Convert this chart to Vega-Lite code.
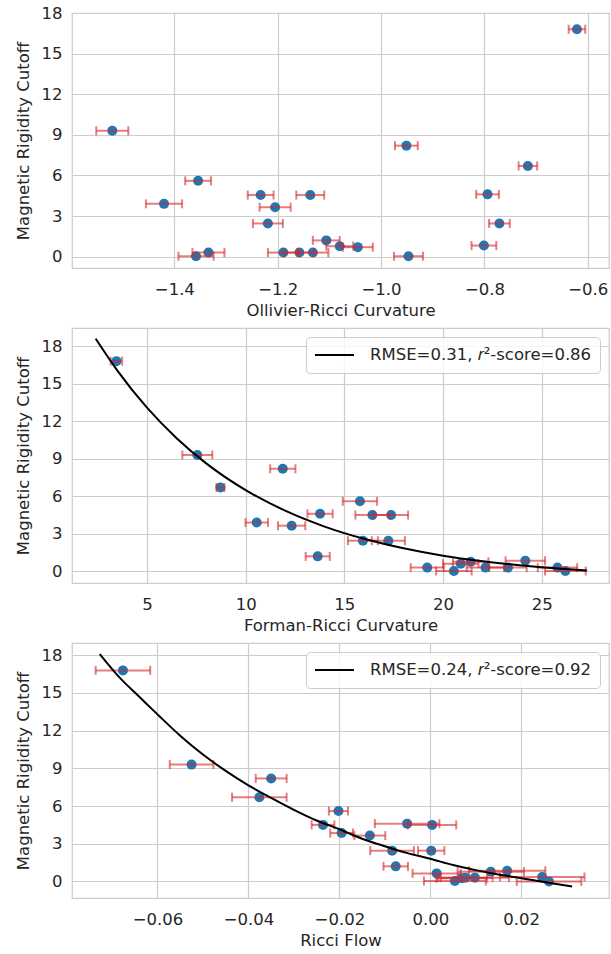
{
  "$schema": "https://vega.github.io/schema/vega-lite/v6.json",
  "background": "white",
  "padding": {"left": 14, "top": 4, "right": 0, "bottom": 0},
  "spacing": 7,
  "resolve": {"scale": {"stroke": "independent"}, "legend": {"stroke": "independent"}},
  "config": {
    "font": "DejaVu Sans",
    "view": {"stroke": "#cccccc", "strokeWidth": 1.25},
    "axis": {
      "domain": false, "ticks": false, "tickSize": 0, "grid": true,
      "gridColor": "#cccccc", "gridWidth": 1.2,
      "labelFont": "DejaVu Sans", "labelFontSize": 16.5, "labelColor": "#262626",
      "labelFlush": false, "labelOverlap": false,
      "titleFont": "DejaVu Sans", "titleFontSize": 16.5, "titleFontWeight": "normal", "titleColor": "#262626"
    },
    "axisX": {"labelPadding": 13, "titlePadding": 5},
    "axisY": {"labelPadding": 10, "titlePadding": 10}
  },
  "datasets": {
    "ollivier": [
      {"x": -1.520, "xerr": 0.031, "y": 9.3},
      {"x": -1.354, "xerr": 0.025, "y": 5.6},
      {"x": -1.420, "xerr": 0.035, "y": 3.9},
      {"x": -1.233, "xerr": 0.025, "y": 4.55},
      {"x": -1.137, "xerr": 0.027, "y": 4.55},
      {"x": -1.205, "xerr": 0.030, "y": 3.65},
      {"x": -1.219, "xerr": 0.029, "y": 2.45},
      {"x": -1.106, "xerr": 0.026, "y": 1.2},
      {"x": -1.080, "xerr": 0.026, "y": 0.77},
      {"x": -1.334, "xerr": 0.031, "y": 0.3},
      {"x": -1.358, "xerr": 0.034, "y": 0.03},
      {"x": -1.189, "xerr": 0.030, "y": 0.3},
      {"x": -1.158, "xerr": 0.029, "y": 0.3},
      {"x": -1.132, "xerr": 0.030, "y": 0.3},
      {"x": -0.621, "xerr": 0.016, "y": 16.8},
      {"x": -0.951, "xerr": 0.022, "y": 8.2},
      {"x": -0.716, "xerr": 0.018, "y": 6.7},
      {"x": -0.794, "xerr": 0.022, "y": 4.6},
      {"x": -0.771, "xerr": 0.020, "y": 2.45},
      {"x": -0.801, "xerr": 0.024, "y": 0.82},
      {"x": -0.947, "xerr": 0.028, "y": 0.03},
      {"x": -1.045, "xerr": 0.029, "y": 0.7}
    ],
    "forman": [
      {"x": 3.45, "xerr": 0.29, "y": 16.8},
      {"x": 7.55, "xerr": 0.76, "y": 9.3},
      {"x": 8.72, "xerr": 0.2, "y": 6.7},
      {"x": 11.88, "xerr": 0.64, "y": 8.2},
      {"x": 13.77, "xerr": 0.64, "y": 4.6},
      {"x": 10.56, "xerr": 0.57, "y": 3.9},
      {"x": 12.33, "xerr": 0.69, "y": 3.65},
      {"x": 13.65, "xerr": 0.61, "y": 1.2},
      {"x": 15.79, "xerr": 0.87, "y": 5.6},
      {"x": 16.42, "xerr": 0.86, "y": 4.5},
      {"x": 17.37, "xerr": 0.86, "y": 4.5},
      {"x": 15.94, "xerr": 0.76, "y": 2.45},
      {"x": 17.23, "xerr": 0.84, "y": 2.45},
      {"x": 19.20, "xerr": 0.84, "y": 0.3},
      {"x": 20.55, "xerr": 0.9, "y": 0.03},
      {"x": 20.90, "xerr": 0.9, "y": 0.61},
      {"x": 21.40, "xerr": 0.9, "y": 0.77},
      {"x": 22.15, "xerr": 0.95, "y": 0.3},
      {"x": 23.29, "xerr": 0.95, "y": 0.3},
      {"x": 24.17, "xerr": 1.0, "y": 0.85},
      {"x": 25.80, "xerr": 1.0, "y": 0.3},
      {"x": 26.20, "xerr": 1.03, "y": 0.03}
    ],
    "forman_fit": [
      {"x": 2.4, "y": 18.6, "label": "RMSE=0.31, 𝑟²-score=0.86"},
      {"x": 3.5, "y": 16.05, "label": "RMSE=0.31, 𝑟²-score=0.86"},
      {"x": 5, "y": 13.08, "label": "RMSE=0.31, 𝑟²-score=0.86"},
      {"x": 6.5, "y": 10.64, "label": "RMSE=0.31, 𝑟²-score=0.86"},
      {"x": 8, "y": 8.63, "label": "RMSE=0.31, 𝑟²-score=0.86"},
      {"x": 10, "y": 6.49, "label": "RMSE=0.31, 𝑟²-score=0.86"},
      {"x": 12, "y": 4.85, "label": "RMSE=0.31, 𝑟²-score=0.86"},
      {"x": 14, "y": 3.58, "label": "RMSE=0.31, 𝑟²-score=0.86"},
      {"x": 16, "y": 2.6, "label": "RMSE=0.31, 𝑟²-score=0.86"},
      {"x": 18, "y": 1.84, "label": "RMSE=0.31, 𝑟²-score=0.86"},
      {"x": 20, "y": 1.25, "label": "RMSE=0.31, 𝑟²-score=0.86"},
      {"x": 22, "y": 0.81, "label": "RMSE=0.31, 𝑟²-score=0.86"},
      {"x": 24, "y": 0.47, "label": "RMSE=0.31, 𝑟²-score=0.86"},
      {"x": 26, "y": 0.2, "label": "RMSE=0.31, 𝑟²-score=0.86"},
      {"x": 27.3, "y": 0.06, "label": "RMSE=0.31, 𝑟²-score=0.86"}
    ],
    "flow": [
      {"x": -0.0676, "xerr": 0.0060, "y": 16.8},
      {"x": -0.0525, "xerr": 0.0048, "y": 9.3},
      {"x": -0.0350, "xerr": 0.0034, "y": 8.2},
      {"x": -0.0376, "xerr": 0.0060, "y": 6.7},
      {"x": -0.0202, "xerr": 0.0021, "y": 5.6},
      {"x": -0.0236, "xerr": 0.0025, "y": 4.5},
      {"x": -0.0195, "xerr": 0.0025, "y": 3.85},
      {"x": -0.0133, "xerr": 0.0034, "y": 3.65},
      {"x": -0.0051, "xerr": 0.0071, "y": 4.6},
      {"x": 0.0004, "xerr": 0.0053, "y": 4.5},
      {"x": -0.0084, "xerr": 0.0048, "y": 2.45},
      {"x": 0.0002, "xerr": 0.0029, "y": 2.45},
      {"x": -0.0076, "xerr": 0.0027, "y": 1.2},
      {"x": 0.0014, "xerr": 0.0053, "y": 0.64},
      {"x": 0.0054, "xerr": 0.0068, "y": 0.03},
      {"x": 0.0069, "xerr": 0.0056, "y": 0.25},
      {"x": 0.0098, "xerr": 0.0075, "y": 0.3},
      {"x": 0.0077, "xerr": 0.0060, "y": 0.3},
      {"x": 0.0133, "xerr": 0.0073, "y": 0.77},
      {"x": 0.0169, "xerr": 0.0084, "y": 0.85},
      {"x": 0.0246, "xerr": 0.0093, "y": 0.35},
      {"x": 0.0261, "xerr": 0.0071, "y": 0.0}
    ],
    "flow_fit": [
      {"x": -0.0727, "y": 18.1, "label": "RMSE=0.24, 𝑟²-score=0.92"},
      {"x": -0.068, "y": 16.1, "label": "RMSE=0.24, 𝑟²-score=0.92"},
      {"x": -0.064, "y": 14.7, "label": "RMSE=0.24, 𝑟²-score=0.92"},
      {"x": -0.060, "y": 13.3, "label": "RMSE=0.24, 𝑟²-score=0.92"},
      {"x": -0.055, "y": 11.6, "label": "RMSE=0.24, 𝑟²-score=0.92"},
      {"x": -0.050, "y": 10.1, "label": "RMSE=0.24, 𝑟²-score=0.92"},
      {"x": -0.045, "y": 8.8, "label": "RMSE=0.24, 𝑟²-score=0.92"},
      {"x": -0.040, "y": 7.65, "label": "RMSE=0.24, 𝑟²-score=0.92"},
      {"x": -0.035, "y": 6.65, "label": "RMSE=0.24, 𝑟²-score=0.92"},
      {"x": -0.030, "y": 5.7, "label": "RMSE=0.24, 𝑟²-score=0.92"},
      {"x": -0.025, "y": 4.85, "label": "RMSE=0.24, 𝑟²-score=0.92"},
      {"x": -0.020, "y": 4.15, "label": "RMSE=0.24, 𝑟²-score=0.92"},
      {"x": -0.015, "y": 3.4, "label": "RMSE=0.24, 𝑟²-score=0.92"},
      {"x": -0.010, "y": 2.8, "label": "RMSE=0.24, 𝑟²-score=0.92"},
      {"x": -0.005, "y": 2.25, "label": "RMSE=0.24, 𝑟²-score=0.92"},
      {"x": 0.000, "y": 1.8, "label": "RMSE=0.24, 𝑟²-score=0.92"},
      {"x": 0.005, "y": 1.3, "label": "RMSE=0.24, 𝑟²-score=0.92"},
      {"x": 0.010, "y": 0.9, "label": "RMSE=0.24, 𝑟²-score=0.92"},
      {"x": 0.015, "y": 0.55, "label": "RMSE=0.24, 𝑟²-score=0.92"},
      {"x": 0.020, "y": 0.26, "label": "RMSE=0.24, 𝑟²-score=0.92"},
      {"x": 0.025, "y": -0.05, "label": "RMSE=0.24, 𝑟²-score=0.92"},
      {"x": 0.0312, "y": -0.4, "label": "RMSE=0.24, 𝑟²-score=0.92"}
    ]
  },
  "vconcat": [
    {
      "width": 537, "height": 255,
      "layer": [
        {
          "data": {"name": "ollivier"},
          "mark": {"type": "circle", "size": 100, "color": "#1f77b4", "opacity": 1},
          "encoding": {
            "x": {"field": "x", "type": "quantitative", "title": "Ollivier-Ricci Curvature", "scale": {"domain": [-1.598, -0.559], "nice": false, "zero": false},
                  "axis": {"values": [-1.4, -1.2, -1.0, -0.8, -0.6], "format": ".1f"}},
            "y": {"field": "y", "type": "quantitative", "title": "Magnetic Rigidity Cutoff", "scale": {"domain": [-0.84, 18], "nice": false, "zero": false},
                  "axis": {"values": [0, 3, 6, 9, 12, 15, 18]}}
          }
        },
        {
          "data": {"name": "ollivier"},
          "mark": {"type": "errorbar", "ticks": true, "size": 9, "thickness": 2, "color": "#d62728", "opacity": 0.6, "orient": "horizontal"},
          "encoding": {
            "x": {"field": "x", "type": "quantitative", "title": "Ollivier-Ricci Curvature"},
            "xError": {"field": "xerr"},
            "y": {"field": "y", "type": "quantitative", "title": "Magnetic Rigidity Cutoff"}
          }
        }
      ]
    },
    {
      "width": 537, "height": 255,
      "layer": [
        {
          "data": {"name": "forman"},
          "mark": {"type": "circle", "size": 100, "color": "#1f77b4", "opacity": 1},
          "encoding": {
            "x": {"field": "x", "type": "quantitative", "title": "Forman-Ricci Curvature", "scale": {"domain": [1.2, 28.41], "nice": false, "zero": false},
                  "axis": {"values": [5, 10, 15, 20, 25], "format": "d"}},
            "y": {"field": "y", "type": "quantitative", "title": "Magnetic Rigidity Cutoff", "scale": {"domain": [-0.93, 19.45], "nice": false, "zero": false},
                  "axis": {"values": [0, 3, 6, 9, 12, 15, 18]}}
          }
        },
        {
          "data": {"name": "forman"},
          "mark": {"type": "errorbar", "ticks": true, "size": 9, "thickness": 2, "color": "#d62728", "opacity": 0.6, "orient": "horizontal"},
          "encoding": {
            "x": {"field": "x", "type": "quantitative", "title": "Forman-Ricci Curvature"},
            "xError": {"field": "xerr"},
            "y": {"field": "y", "type": "quantitative", "title": "Magnetic Rigidity Cutoff"}
          }
        },
        {
          "data": {"name": "forman_fit"},
          "mark": {"type": "line", "strokeWidth": 2, "interpolate": "monotone"},
          "encoding": {
            "x": {"field": "x", "type": "quantitative", "title": "Forman-Ricci Curvature"},
            "y": {"field": "y", "type": "quantitative", "title": "Magnetic Rigidity Cutoff"},
            "stroke": {"field": "label", "type": "nominal", "scale": {"range": ["black"]},
              "legend": {"title": null, "orient": "top-right", "offset": 9, "symbolType": "stroke", "symbolSize": 1521,
                "symbolStrokeWidth": 2, "clipHeight": 20, "labelFontSize": 16.5, "labelFont": "DejaVu Sans", "labelColor": "#262626",
                "labelOffset": 15, "labelLimit": 400, "padding": 8, "strokeColor": "#cccccc", "fillColor": "rgba(255,255,255,0.8)", "cornerRadius": 4}}
          }
        }
      ]
    },
    {
      "width": 537, "height": 255,
      "layer": [
        {
          "data": {"name": "flow"},
          "mark": {"type": "circle", "size": 100, "color": "#1f77b4", "opacity": 1},
          "encoding": {
            "x": {"field": "x", "type": "quantitative", "title": "Ricci Flow", "scale": {"domain": [-0.0788, 0.0393], "nice": false, "zero": false},
                  "axis": {"values": [-0.06, -0.04, -0.02, 0.0, 0.02], "format": ".2f"}},
            "y": {"field": "y", "type": "quantitative", "title": "Magnetic Rigidity Cutoff", "scale": {"domain": [-1.32, 18.98], "nice": false, "zero": false},
                  "axis": {"values": [0, 3, 6, 9, 12, 15, 18]}}
          }
        },
        {
          "data": {"name": "flow"},
          "mark": {"type": "errorbar", "ticks": true, "size": 9, "thickness": 2, "color": "#d62728", "opacity": 0.6, "orient": "horizontal"},
          "encoding": {
            "x": {"field": "x", "type": "quantitative", "title": "Ricci Flow"},
            "xError": {"field": "xerr"},
            "y": {"field": "y", "type": "quantitative", "title": "Magnetic Rigidity Cutoff"}
          }
        },
        {
          "data": {"name": "flow_fit"},
          "mark": {"type": "line", "strokeWidth": 2, "interpolate": "monotone"},
          "encoding": {
            "x": {"field": "x", "type": "quantitative", "title": "Ricci Flow"},
            "y": {"field": "y", "type": "quantitative", "title": "Magnetic Rigidity Cutoff"},
            "stroke": {"field": "label", "type": "nominal", "scale": {"range": ["black"]},
              "legend": {"title": null, "orient": "top-right", "offset": 9, "symbolType": "stroke", "symbolSize": 1521,
                "symbolStrokeWidth": 2, "clipHeight": 20, "labelFontSize": 16.5, "labelFont": "DejaVu Sans", "labelColor": "#262626",
                "labelOffset": 15, "labelLimit": 400, "padding": 8, "strokeColor": "#cccccc", "fillColor": "rgba(255,255,255,0.8)", "cornerRadius": 4}}
          }
        }
      ]
    }
  ]
}
